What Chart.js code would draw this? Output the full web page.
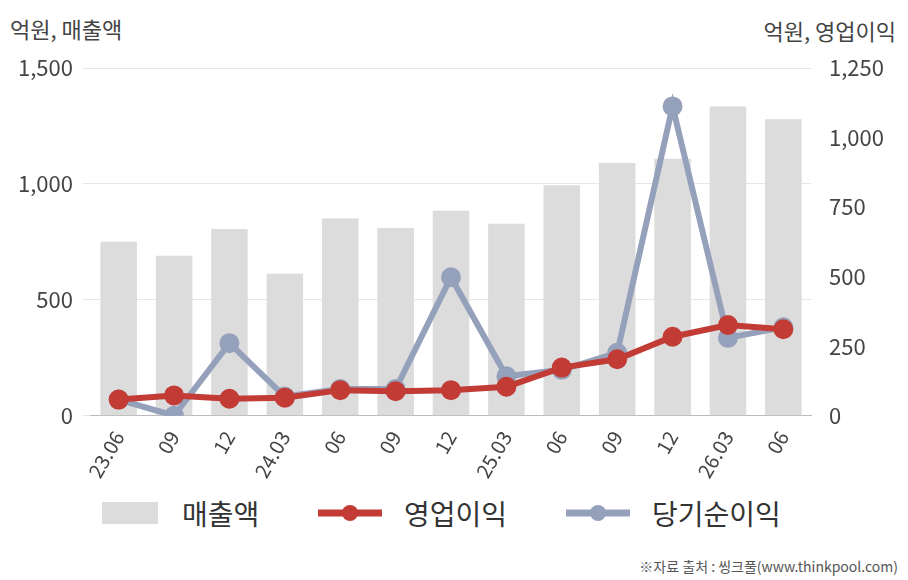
<!DOCTYPE html>
<html><head><meta charset="utf-8">
<script src="https://cdn.jsdelivr.net/npm/chart.js@4"></script>
<style>
body{margin:0;width:908px;height:580px;background:#fff;font-family:"Noto Sans CJK KR","Noto Sans",sans-serif;overflow:hidden;position:relative}
.t{position:absolute;color:#444;font-size:22px}
#wrap{position:absolute;left:0;top:0;width:908px;height:485px}
.lg{position:absolute;top:493px;font-size:28px;color:#333;display:flex;align-items:center}
</style></head><body>
<div class="t" style="left:10px;top:12px">억원, 매출액</div>
<div class="t" style="right:12px;top:14px">억원, 영업이익</div>
<div id="wrap"><canvas id="c" width="908" height="485"></canvas></div>
<div class="lg" style="left:102px"><span style="display:inline-block;width:56px;height:22px;background:#dcdcdc;margin-right:24px"></span>매출액</div>
<div class="lg" style="left:318px"><svg width="64" height="24" style="margin-right:22px"><line x1="0" y1="12" x2="64" y2="12" stroke="#c23b35" stroke-width="7"/><circle cx="32" cy="12" r="8" fill="#c23b35"/></svg>영업이익</div>
<div class="lg" style="left:566px"><svg width="64" height="24" style="margin-right:22px"><line x1="0" y1="12" x2="64" y2="12" stroke="#95a1bb" stroke-width="7"/><circle cx="32" cy="12" r="8" fill="#95a1bb"/></svg>당기순이익</div>
<div class="t" style="right:10px;top:556px;font-size:14px;color:#555">※자료 출처 : 씽크풀(www.thinkpool.com)</div>
<script>
const categories=["23.06","09","12","24.03","06","09","12","25.03","06","09","12","26.03","06"];
const sales=[750,690,805,612,851,810,884,828,994,1090,1109,1334,1279];
const opIncome=[58,73,61,65,92,88,92,104,173,203,284,326,311];
const netIncome=[58,0,261,69,96,96,498,142,165,226,1112,280,318];
const leftTicks=[0,500,1000,1500];
const rightTicks=[0,250,500,750,1000,1250];
const F='"Noto Sans CJK KR","Noto Sans",sans-serif';
new Chart(document.getElementById('c'),{
 data:{labels:categories,datasets:[
  {type:'line',data:netIncome,yAxisID:'y2',borderColor:'#95a1bb',backgroundColor:'#95a1bb',borderWidth:6,pointRadius:7,pointBackgroundColor:'#95a1bb',order:1},
  {type:'line',data:opIncome,yAxisID:'y2',borderColor:'#c23b35',backgroundColor:'#c23b35',borderWidth:6,pointRadius:7,order:0},
  {type:'bar',data:sales,yAxisID:'y',backgroundColor:'#dcdcdc',categoryPercentage:0.66,barPercentage:1,order:2}
 ]},
 options:{responsive:false,animation:false,devicePixelRatio:1,
  layout:{padding:{top:68,left:8,right:14}},
  plugins:{legend:{display:false},tooltip:{enabled:false}},
  scales:{
   x:{grid:{display:false},border:{color:'#bbb'},ticks:{color:'#444',font:{family:F,size:20},maxRotation:60,minRotation:60}},
   y:{position:'left',min:0,max:1500,afterBuildTicks:a=>{a.ticks=leftTicks.map(v=>({value:v}))},grid:{color:'#e6e6e6'},border:{display:false},ticks:{color:'#444',font:{family:F,size:22},padding:10,callback:v=>v.toLocaleString('en-US')}},
   y2:{position:'right',min:0,max:1250,afterBuildTicks:a=>{a.ticks=rightTicks.map(v=>({value:v}))},grid:{display:false},border:{display:false},ticks:{color:'#444',font:{family:F,size:22},padding:10,callback:v=>v.toLocaleString('en-US')}}
  }}
});
</script>
</body></html>
